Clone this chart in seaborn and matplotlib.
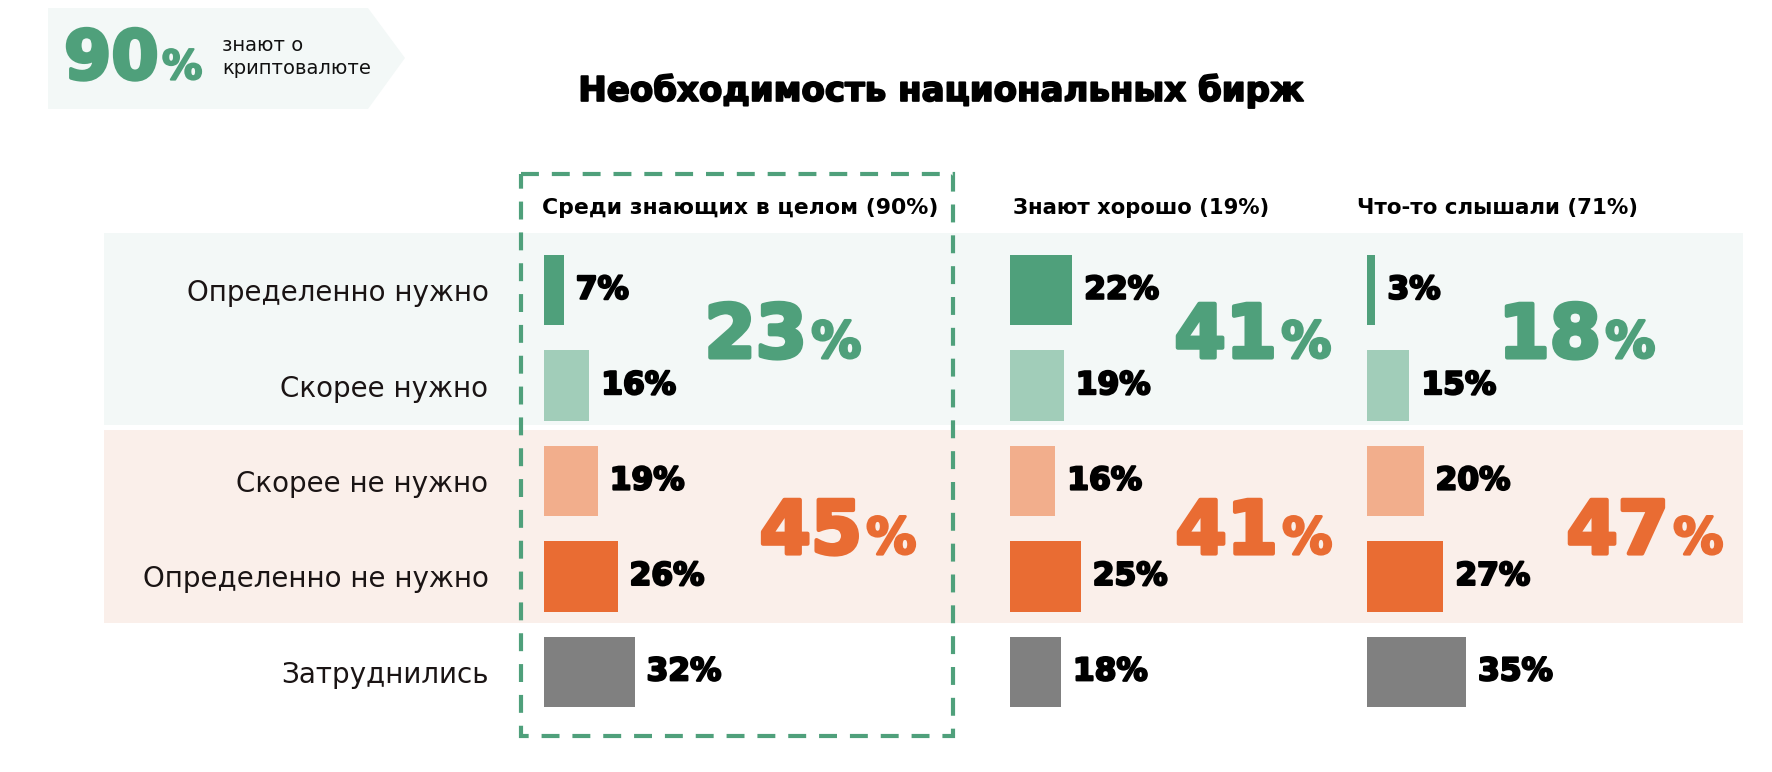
import matplotlib
matplotlib.use("Agg")
import matplotlib.pyplot as plt
import matplotlib.patheffects as pe
import seaborn as sns
from matplotlib.patches import Rectangle, Polygon

# data
answers = ["Определенно нужно", "Скорее нужно", "Скорее не нужно",
           "Определенно не нужно", "Затруднились"]
groups = ["Среди знающих в целом (90%)", "Знают хорошо (19%)", "Что-то слышали (71%)"]
all_aware = [7, 16, 19, 26, 32]
know_well = [22, 19, 16, 25, 18]
heard_of = [3, 15, 20, 27, 35]
need_total = [23, 41, 18]
no_need_total = [45, 41, 47]
aware_share = 90
title = "Необходимость национальных бирж"
badge_text = "знают о\nкриптовалюте"

# colours
green = "#4FA07B"
orange = "#E96C33"
bar_colors = [green, "#A1CDB9", "#F2AE8C", orange, "#808080"]
band_green = "#F3F8F7"
band_orange = "#FAEFEA"


def heavy(color, w):
    # fake a black weight by stroking the bold glyphs
    return [pe.withStroke(linewidth=w, foreground=color)]


W, H = 1772, 772
fig = plt.figure(figsize=(W / 100, H / 100), dpi=100)

# background layer in pixel coords
bg = fig.add_axes([0, 0, 1, 1])
bg.set_xlim(0, W)
bg.set_ylim(H, 0)
bg.axis("off")
bg.add_patch(Rectangle((104, 233), 1639, 192, color=band_green, lw=0))
bg.add_patch(Rectangle((104, 430), 1639, 193, color=band_orange, lw=0))
bg.add_patch(Polygon([(48, 8), (368, 8), (405, 58), (368, 109), (48, 109)],
                     closed=True, color=band_green, lw=0))
bg.add_patch(Rectangle((521, 174), 432, 562, fill=False, ec=green, lw=3.0,
                       linestyle=(0, (4.3, 3.1))))

bg.text(64, 79, str(aware_share), fontsize=49, fontweight="bold", color=green,
        ha="left", va="baseline", path_effects=heavy(green, 2.5))
bg.text(162, 79, "%", fontsize=29, fontweight="bold", color=green,
        ha="left", va="baseline", path_effects=heavy(green, 1.5))
bg.text(222, 57, badge_text, fontsize=14, color="#111111", ha="left", va="center",
        linespacing=1.25)
bg.text(941, 91, title, fontsize=24.5, fontweight="bold", color="black",
        ha="center", va="center", path_effects=heavy("black", 1.3))

col_x = [544, 1010, 1367]
header_x = [542, 1013, 1357]
header_size = [15.8, 15.2, 15.4]
px_per = 2.83
ax_w = 330
row_top, row_bot = 242.5, 719.5
split_px = [(263, 318), (267, 268), (234, 302)]
series = [all_aware, know_well, heard_of]

for i, vals in enumerate(series):
    ax = fig.add_axes([col_x[i] / W, 1 - row_bot / H, ax_w / W, (row_bot - row_top) / H])
    ax.set_facecolor("none")
    sns.barplot(x=vals, y=answers, hue=answers, palette=bar_colors, orient="h",
                width=0.737, saturation=1, dodge=False, legend=False, ax=ax)
    ax.set_xlim(0, ax_w / px_per)
    ax.set_ylim(4.5, -0.5)
    ax.set_xticks([])
    ax.set_xlabel("")
    ax.set_ylabel("")
    for s in ax.spines.values():
        s.set_visible(False)
    if i == 0:
        ax.tick_params(axis="y", length=0, pad=40, labelsize=20, labelcolor="#1a1414")
    else:
        ax.set_yticks([])

    for j, v in enumerate(vals):
        ax.text(v + 12 / px_per, j, f"{v}%", fontsize=22.5, fontweight="bold",
                color="black", ha="left", va="center", path_effects=heavy("black", 1.6))

    gx, ox = split_px[i][0] / px_per, split_px[i][1] / px_per
    ax.text(gx, 0.705, str(need_total[i]), fontsize=53, fontweight="bold",
            color=green, ha="right", va="baseline", path_effects=heavy(green, 3))
    ax.text(gx + 1.5, 0.705, "%", fontsize=36, fontweight="bold",
            color=green, ha="left", va="baseline", path_effects=heavy(green, 2))
    ax.text(ox, 2.76, str(no_need_total[i]), fontsize=53, fontweight="bold",
            color=orange, ha="right", va="baseline", path_effects=heavy(orange, 3))
    ax.text(ox + 1.5, 2.76, "%", fontsize=36, fontweight="bold",
            color=orange, ha="left", va="baseline", path_effects=heavy(orange, 2))

    fig.text(header_x[i] / W, 1 - 208 / H, groups[i], fontsize=header_size[i],
             fontweight="bold", color="black", ha="left", va="center")

fig.savefig("out.png", dpi=100)
